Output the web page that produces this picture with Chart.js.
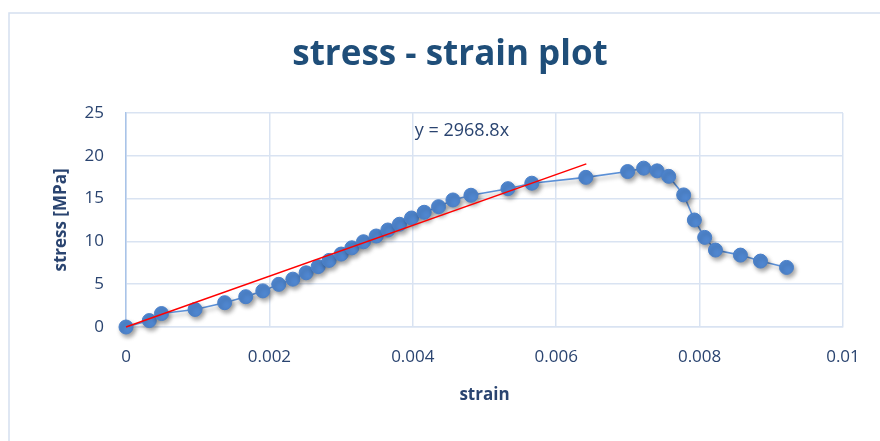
<!DOCTYPE html>
<html>
<head>
<meta charset="utf-8">
<script src="https://cdn.jsdelivr.net/npm/chart.js@4"></script>
<style>
  html, body { margin: 0; padding: 0; background: #ffffff; }
  #wrap { width: 880px; height: 441px; position: relative; }
</style>
</head>
<body>
<div id="wrap"><canvas id="c" width="880" height="441"></canvas></div>
<script>
// Measured test points
const strain = [0, 0.000325, 0.000495, 0.000963, 0.001376, 0.00167, 0.001908, 0.00213, 0.002327,
  0.002512, 0.00268, 0.002833, 0.003001, 0.00315, 0.003312, 0.003489, 0.003652, 0.003814,
  0.003982, 0.004159, 0.004359, 0.00456, 0.004811, 0.005327, 0.00566, 0.006413, 0.006996,
  0.00722, 0.007407, 0.007569, 0.007778, 0.007927, 0.008071, 0.008221, 0.008569, 0.008849, 0.009212];
const stress = [0, 0.75, 1.57, 2.05, 2.84, 3.54, 4.22, 4.98, 5.59,
  6.33, 7.05, 7.78, 8.52, 9.25, 9.96, 10.63, 11.33, 12.0,
  12.73, 13.4, 14.06, 14.84, 15.39, 16.16, 16.8, 17.48, 18.16,
  18.56, 18.24, 17.6, 15.43, 12.5, 10.47, 8.99, 8.4, 7.7, 6.96];

// Linear fit through the origin
const trendSlope = 2968.8;
const trendRange = [0, 0.00642];
const trendLabel = 'y = 2968.8x';

const chartTitle = 'stress - strain plot';
const xTicks = ['0', '0.002', '0.004', '0.006', '0.008', '0.01'];
const yTicks = ['0', '5', '10', '15', '20', '25'];

const points = strain.map((s, i) => ({ x: s, y: stress[i] }));
const trend = trendRange.map(s => ({ x: s, y: trendSlope * s }));

const FONT = "'Open Sans', 'Liberation Sans', sans-serif";
const INK = '#2a4470';

// Background, outer frame and heading
const framePlugin = {
  id: 'frame',
  beforeDraw(chart) {
    const ctx = chart.ctx;
    ctx.save();
    ctx.fillStyle = '#ffffff';
    ctx.fillRect(0, 0, chart.width, chart.height);
    ctx.strokeStyle = '#d5e0ef';
    ctx.lineWidth = 1.5;
    ctx.strokeRect(9, 13, chart.width + 20, chart.height + 20);
    ctx.font = 'bold 35px ' + FONT;
    ctx.fillStyle = '#1f4e79';
    ctx.textAlign = 'center';
    ctx.textBaseline = 'middle';
    ctx.fillText(chartTitle, 450, 55);
    ctx.restore();
  }
};

const shadowPlugin = {
  id: 'markerShadow',
  beforeDatasetDraw(chart, args) {
    if (args.index !== 0) return;
    const ctx = chart.ctx;
    ctx.save();
    ctx.shadowColor = 'rgba(0,0,0,0.35)';
    ctx.shadowBlur = 4;
    ctx.shadowOffsetX = 2;
    ctx.shadowOffsetY = 3;
  },
  afterDatasetDraw(chart, args) {
    if (args.index !== 0) return;
    chart.ctx.restore();
  }
};

const trendTextPlugin = {
  id: 'trendText',
  afterDatasetsDraw(chart) {
    const { ctx, scales } = chart;
    const x = scales.x.getPixelForValue(0.004) + 2;
    const y = scales.y.getPixelForValue(22.9);
    ctx.save();
    ctx.font = '18px ' + FONT;
    ctx.fillStyle = INK;
    ctx.textAlign = 'left';
    ctx.textBaseline = 'middle';
    ctx.fillText(trendLabel, x, y);
    ctx.restore();
  }
};

new Chart(document.getElementById('c'), {
  type: 'scatter',
  data: {
    datasets: [
      {
        data: points,
        showLine: true,
        clip: false,
        borderColor: '#5a8fd6',
        borderWidth: 1.6,
        backgroundColor: '#4f86cf',
        pointBackgroundColor: '#4f86cf',
        pointBorderColor: '#4a80c9',
        pointBorderWidth: 1,
        pointRadius: 7,
        order: 2
      },
      {
        data: trend,
        showLine: true,
        clip: false,
        borderColor: '#ff0000',
        borderWidth: 1.5,
        pointRadius: 0,
        order: 1
      }
    ]
  },
  options: {
    responsive: false,
    animation: false,
    events: [],
    layout: { padding: { left: 0, right: 37, top: 113, bottom: 0 } },
    plugins: {
      legend: { display: false },
      tooltip: { enabled: false },
      title: { display: false }
    },
    scales: {
      x: {
        type: 'linear',
        min: 0,
        max: 0.01,
        afterFit(scale) { scale.height = 114; },
        afterBuildTicks(scale) {
          scale.ticks = xTicks.map(t => ({ value: parseFloat(t) }));
        },
        ticks: {
          color: INK,
          font: { family: FONT, size: 17 },
          padding: 20,
          maxRotation: 0,
          callback: (v, i) => xTicks[i]
        },
        grid: { color: '#d9e3f2', lineWidth: 1.5, drawTicks: false },
        border: { color: '#d9e3f2', width: 1.5 },
        title: {
          display: true,
          text: 'strain',
          color: INK,
          font: { family: FONT, size: 17, weight: 'bold', lineHeight: 1.2 },
          padding: { top: 0, bottom: 36 }
        }
      },
      y: {
        type: 'linear',
        min: 0,
        max: 25,
        afterFit(scale) { scale.width = 126; },
        afterBuildTicks(scale) {
          scale.ticks = yTicks.map(t => ({ value: parseFloat(t) }));
        },
        ticks: {
          color: INK,
          font: { family: FONT, size: 17 },
          padding: 22,
          callback: (v, i) => yTicks[i]
        },
        grid: { color: '#d9e3f2', lineWidth: 1.5, drawTicks: false },
        border: { color: '#a9c4e8', width: 1.5 },
        title: {
          display: true,
          text: 'stress [MPa]',
          color: INK,
          font: { family: FONT, size: 17, weight: 'bold', lineHeight: 1.2 },
          padding: { top: 51, bottom: 0 }
        }
      }
    }
  },
  plugins: [framePlugin, shadowPlugin, trendTextPlugin]
});
</script>
</body>
</html>
